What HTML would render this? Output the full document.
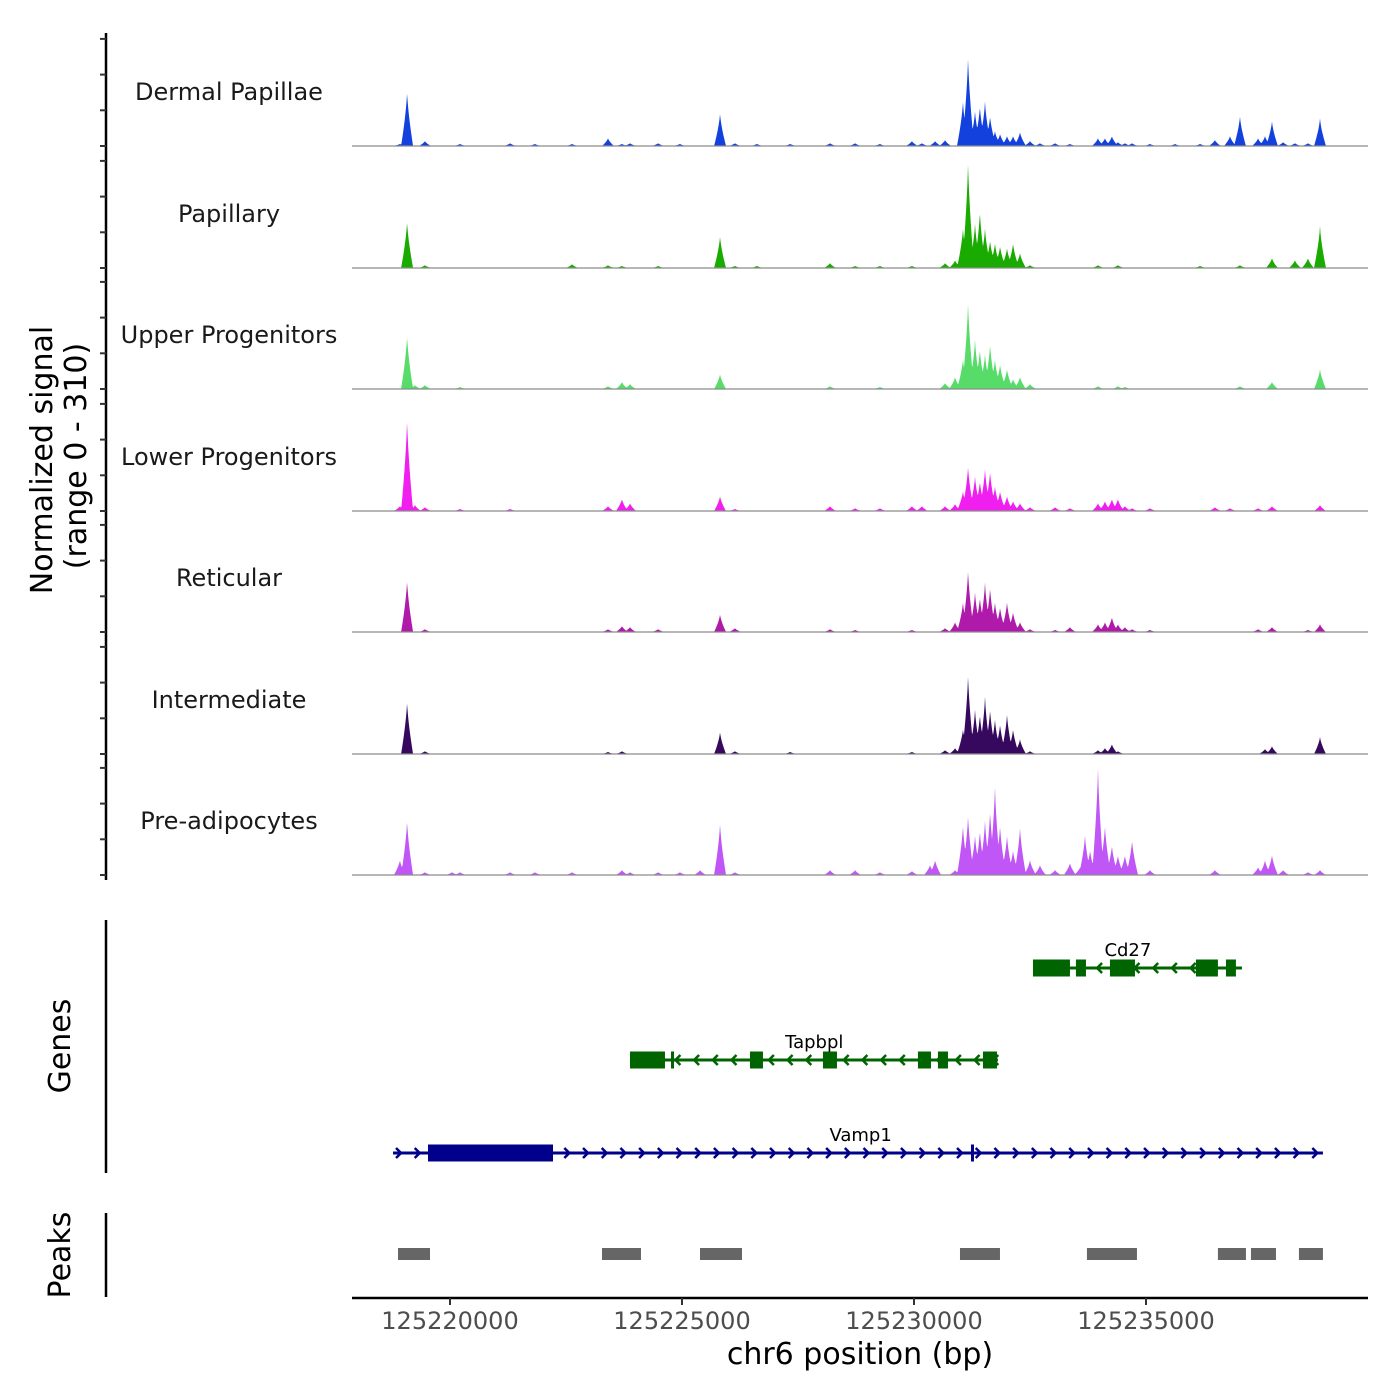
<!DOCTYPE html>
<html><head><meta charset="utf-8"><style>
html,body{margin:0;padding:0;background:#fff;}
svg{display:block;font-family:"DejaVu Sans","Liberation Sans",sans-serif;}
</style></head><body>
<svg id="chart" width="1400" height="1400" viewBox="0 0 1400 1400" xmlns="http://www.w3.org/2000/svg"></svg>
<script>
const trackNames = ["Dermal Papillae","Papillary","Upper Progenitors","Lower Progenitors","Reticular","Intermediate","Pre-adipocytes"];
const trackColors = ["#1341de","#1aab00","#57dc6a","#f01ff0","#b01aab","#36095e","#c056f5"];
// [bp offset from 125220000, signal]
const dermalPapillae = [[-1080,6],[-925,154],[-540,14],[215,6],[1295,8],[1830,6],[2630,6],[3405,22],[3705,6],[3880,8],[4485,8],[4955,6],[5820,92],[6140,8],[6615,6],[7330,6],[8190,8],[8730,8],[9265,6],[9955,14],[10170,8],[10455,14],[10670,17],[11055,126],[11165,252],[11315,98],[11420,112],[11530,126],[11640,84],[11745,42],[11855,34],[12005,28],[12135,28],[12285,39],[12500,14],[12715,8],[13040,8],[13360,6],[13965,22],[14115,22],[14265,28],[14395,11],[14545,8],[14700,8],[15085,6],[15625,6],[16165,6],[16485,17],[16810,28],[17025,84],[17415,22],[17565,28],[17715,70],[17955,11],[18210,8],[18490,8],[18750,78]];
const papillary = [[-925,132],[-540,8],[2630,11],[3405,8],[3705,6],[4485,6],[5820,90],[6140,6],[6615,6],[8190,14],[8730,6],[9265,6],[9955,6],[10670,14],[10885,22],[11055,112],[11165,300],[11315,126],[11420,160],[11530,112],[11640,78],[11745,70],[11855,62],[12005,56],[12135,70],[12285,42],[12500,8],[13965,8],[14395,8],[16165,6],[17025,8],[17715,28],[18210,22],[18490,28],[18750,118]];
const upperProgenitors = [[-925,151],[-755,11],[-540,11],[215,6],[3405,8],[3705,20],[3880,14],[5820,42],[8190,8],[9265,6],[10670,17],[10885,34],[11055,84],[11165,246],[11315,140],[11420,112],[11530,98],[11640,126],[11745,84],[11855,70],[12005,56],[12135,28],[12285,34],[12500,14],[13965,8],[14395,8],[14545,6],[17025,8],[17715,20],[18750,56]];
const lowerProgenitors = [[-1080,14],[-925,260],[-755,17],[-540,11],[215,6],[1295,6],[3405,14],[3705,34],[3880,22],[5820,42],[6140,6],[8190,14],[8730,8],[9265,8],[9955,14],[10170,14],[10670,14],[10885,20],[11055,56],[11165,126],[11315,98],[11420,84],[11530,118],[11640,112],[11745,70],[11855,56],[12005,42],[12135,28],[12285,22],[12500,11],[13040,11],[13360,8],[13965,22],[14115,28],[14265,34],[14395,34],[14545,14],[14700,8],[15085,8],[16485,11],[16810,8],[17415,8],[17715,14],[18750,17]];
const reticular = [[-925,146],[-540,8],[3405,8],[3705,17],[3880,14],[4485,8],[5820,50],[6140,11],[8190,8],[8730,6],[9955,6],[10670,11],[10885,28],[11055,84],[11165,174],[11315,112],[11420,98],[11530,140],[11640,126],[11745,84],[11855,70],[12005,84],[12135,56],[12285,28],[12500,8],[13040,6],[13360,14],[13965,22],[14115,28],[14265,42],[14395,22],[14545,14],[14700,8],[15085,6],[17415,8],[17715,14],[18490,6],[18750,22]];
const intermediate = [[-925,148],[-540,8],[3405,6],[3705,8],[5820,62],[6140,8],[7330,6],[9955,6],[10670,11],[10885,17],[11055,70],[11165,224],[11315,126],[11420,112],[11530,162],[11640,126],[11745,98],[11855,84],[12005,112],[12135,70],[12285,42],[12500,8],[13965,11],[14115,17],[14265,28],[14395,8],[17565,14],[17715,22],[18750,48]];
const preAdipocytes = [[-1080,42],[-925,154],[-540,8],[45,8],[215,8],[1295,8],[1830,8],[2630,8],[3705,14],[3880,8],[4485,8],[4955,8],[5390,14],[5820,146],[6140,8],[8190,14],[8730,14],[9265,8],[9955,11],[10345,28],[10455,42],[10885,14],[11055,140],[11165,168],[11315,112],[11420,126],[11530,154],[11640,182],[11745,252],[11855,140],[12005,112],[12135,70],[12285,134],[12500,42],[12715,28],[13040,14],[13360,34],[13580,22],[13685,112],[13795,70],[13965,305],[14115,140],[14265,84],[14395,56],[14545,56],[14700,98],[15085,14],[16485,14],[17415,22],[17565,42],[17715,56],[17955,14],[18490,8],[18750,14]];
const trackData = [dermalPapillae,papillary,upperProgenitors,lowerProgenitors,reticular,intermediate,preAdipocytes];
const xTicks = [125220000,125225000,125230000,125235000];
const genes = [
 {name:"Cd27",strand:-1,start:125232564,end:125237068,exons:[[125232564,125233361],[125233490,125233706],[125234223,125234762],[125236076,125236550],[125236723,125236938]],row:0,color:"#006400",label:125234610},
 {name:"Tapbpl",strand:-1,start:125223879,end:125231809,exons:[[125223879,125224633],[125224763,125224827],[125226465,125226745],[125228038,125228340],[125230085,125230366],[125230516,125230732],[125231486,125231788]],row:1,color:"#006400",label:125227850},
 {name:"Vamp1",strand:1,start:125218772,end:125238813,exons:[[125219526,125222220],[125231228,125231292]],row:2,color:"#00008b",label:125228850}
];
const peakRegions = [[125218879,125219569],[125223276,125224116],[125225388,125226293],[125230991,125231853],[125233727,125234805],[125236550,125237154],[125237262,125237801],[125238296,125238813]];

const NS="http://www.w3.org/2000/svg";
const svg=document.getElementById('chart');
function el(t,a,p){const e=document.createElementNS(NS,t);for(const k in a)e.setAttribute(k,a[k]);(p||svg).appendChild(e);return e;}
const X0=352,X1=1368;
const xs=bp=>450+(bp-125220000)*0.0464;
const baselines=[146,268,389,511,632,754,875];
const ys=v=>v*0.357;
const labelY=[91,213,334,456,577,699,820];

let ax=el('line',{x1:106,y1:33,x2:106,y2:880,stroke:'#000','stroke-width':2.5});


baselines.forEach(b=>{[0,100,200,300].forEach(v=>{
  const t=el('line',{x1:100,y1:b-ys(v),x2:106,y2:b-ys(v),stroke:'#333','stroke-width':2});
  
  
});});
const yt=el('text',{x:0,y:0,'font-size':30,'text-anchor':'middle',transform:'translate(52,460) rotate(-90)'});


yt.textContent='Normalized signal';
const yt2=el('text',{x:0,y:0,'font-size':30,'text-anchor':'middle',transform:'translate(86,456) rotate(-90)'});


yt2.textContent='(range 0 - 310)';

trackData.forEach((data,i)=>{
  const b=baselines[i];
  const g=el('g',{});
  
  
  const W=6;
  let x0=Math.floor(xs(-1300+125220000)), x1=Math.ceil(xs(19000+125220000));
  let pts=[[x0,b]];
  for(let x=x0;x<=x1;x+=0.5){
    let h=0;
    data.forEach(([p,v])=>{const d=Math.abs(x-xs(125220000+p));if(d<W){h=Math.max(h,ys(v)*(1-Math.pow(d/W,0.7)));}});
    pts.push([x,b-h]);
  }
  pts.push([x1,b]);
  el('polygon',{points:pts.map(p=>p[0].toFixed(1)+','+p[1].toFixed(1)).join(' '),fill:trackColors[i]},g);
  el('line',{x1:X0,y1:b,x2:X1,y2:b,stroke:'#8c8c8c','stroke-width':1.2},g);
  const t=el('text',{x:229,y:labelY[i]+9,'font-size':24,'text-anchor':'middle',fill:'#1a1a1a'});
  
  
  t.textContent=trackNames[i];
});

let ga=el('line',{x1:106,y1:920,x2:106,y2:1173,stroke:'#000','stroke-width':2.5});


const gt=el('text',{x:0,y:0,'font-size':30,'text-anchor':'middle',transform:'translate(70,1046) rotate(-90)'});


gt.textContent='Genes';
const rowY=[968,1060,1153];
genes.forEach(gn=>{
  const g=el('g',{});
  
  
  const y=rowY[gn.row];
  el('line',{x1:xs(gn.start),y1:y,x2:xs(gn.end),y2:y,stroke:gn.color,'stroke-width':3},g);
  const a=xs(gn.start),bE=xs(gn.end);
  for(let x=a+8;x<bE-4;x+=18.7){
    const d=gn.strand*5;
    el('polyline',{points:`${x-d},${y-5} ${x},${y} ${x-d},${y+5}`,fill:'none',stroke:gn.color,'stroke-width':2.5},g);
  }
  gn.exons.forEach(([s,e])=>{
    el('rect',{x:xs(s),y:y-8.5,width:Math.max(3,xs(e)-xs(s)),height:17,fill:gn.color},g);
  });
  const t=el('text',{x:xs(gn.label),y:y-12,'font-size':18,'text-anchor':'middle',fill:'#000'},g);
  t.textContent=gn.name;
});

let pa=el('line',{x1:106,y1:1213,x2:106,y2:1297,stroke:'#000','stroke-width':2.5});


const pt=el('text',{x:0,y:0,'font-size':30,'text-anchor':'middle',transform:'translate(70,1255) rotate(-90)'});


pt.textContent='Peaks';
peakRegions.forEach(([s,e])=>{
  const r=el('rect',{x:xs(s),y:1248,width:xs(e)-xs(s),height:12,fill:'#666'});
  
  
});

let xa=el('line',{x1:X0,y1:1298,x2:X1,y2:1298,stroke:'#000','stroke-width':2.5});


xTicks.forEach(v=>{
  el('line',{x1:xs(v),y1:1298,x2:xs(v),y2:1305,stroke:'#333','stroke-width':2});
  const t=el('text',{x:xs(v),y:1329,'font-size':24,'text-anchor':'middle',fill:'#4d4d4d'});
  
  
  t.textContent=v;
});
const xt=el('text',{x:860,y:1364,'font-size':30,'text-anchor':'middle',fill:'#000'});


xt.textContent='chr6 position (bp)';
</script>
</body></html>
